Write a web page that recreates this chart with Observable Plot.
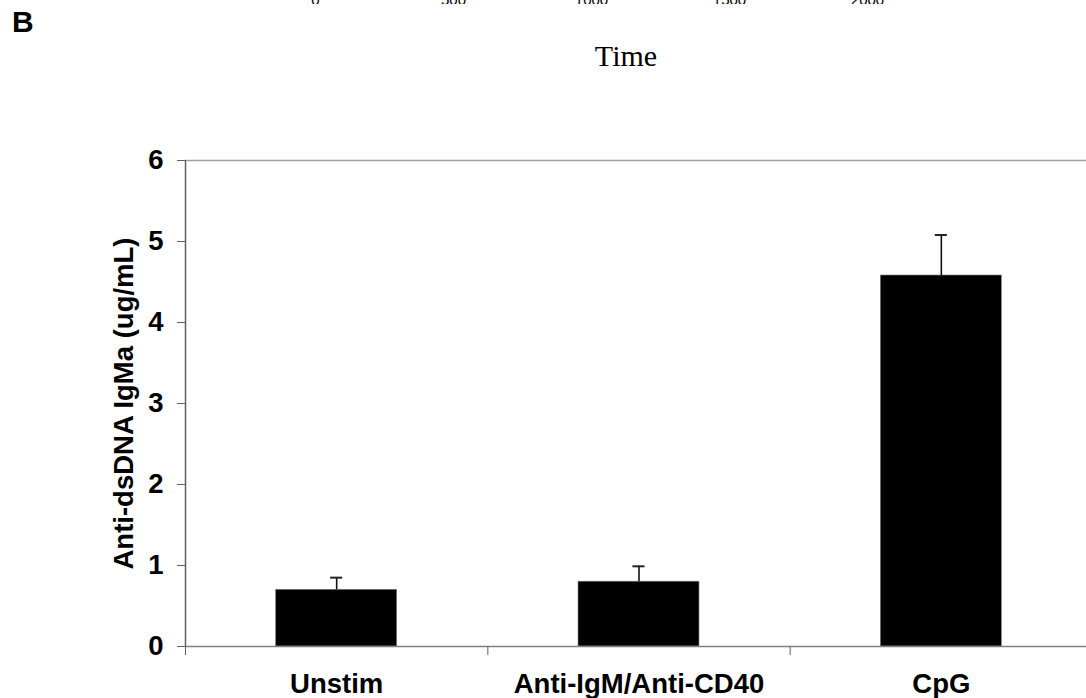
<!DOCTYPE html>
<html>
<head>
<meta charset="utf-8">
<script src="https://cdn.jsdelivr.net/npm/d3@7"></script>
<script src="https://cdn.jsdelivr.net/npm/@observablehq/plot@0.6"></script>
<style>
  html, body { margin: 0; padding: 0; background: #fff; }
  #wrap { position: relative; width: 1086px; height: 698px; overflow: hidden; font-family: "Liberation Sans", Arial, sans-serif; }
  #topaxis { position: absolute; left: 0; top: -16px; }
  #panel { position: absolute; left: 12px; top: 7px; font: bold 30px "Liberation Sans", Arial, sans-serif; line-height: 1; }
  #time { position: absolute; left: 0; width: 1252px; top: 41px; text-align: center; font: 30px "Liberation Serif", "Times New Roman", serif; line-height: 1; }
  #main { position: absolute; left: 0; top: 0; }
</style>
</head>
<body>
<div id="wrap">
  <div id="main"></div>
  <div id="topaxis"></div>
  <div id="panel">B</div>
  <div id="time">Time</div>
</div>
<script>
// Data
const categories = ["Unstim", "Anti-IgM/Anti-CD40", "CpG"];
const means = [0.70, 0.80, 4.58];
const errors = [0.15, 0.19, 0.50];
const yTicks = [0, 1, 2, 3, 4, 5, 6];
const timeTicks = [0, 500, 1000, 1500, 2000];

const data = categories.map((c, i) => ({cat: c, i, mean: means[i], err: errors[i]}));

// Clipped axis from the panel above
const topAxis = Plot.plot({
  width: 1086, height: 20, margin: 0,
  x: {domain: [0, 2000], range: [315, 867], axis: null},
  y: {axis: null},
  marks: [
    Plot.text(timeTicks, {x: d => d, frameAnchor: "bottom", lineAnchor: "bottom", text: d => String(d),
      fontSize: 15, fill: "black", fontFamily: "Liberation Sans, Arial, sans-serif"})
  ]
});
document.getElementById("topaxis").appendChild(topAxis);

const font = "Liberation Sans, Arial, sans-serif";
const fs = 27.5;
const chart = Plot.plot({
  width: 1086, height: 698,
  marginTop: 160, marginBottom: 52, marginLeft: 185, marginRight: 0,
  style: {fontFamily: font, background: "white", overflow: "hidden"},
  x: {type: "linear", domain: [0, 3], range: [185, 1092]},
  y: {domain: [0, 6]},
  marks: [
    Plot.rectY(data, {x1: d => d.i + 0.3, x2: d => d.i + 0.7, y1: 0, y2: "mean", fill: "black", stroke: "#777", strokeWidth: 0.6}),
    Plot.ruleX(data, {x: d => d.i + 0.5, y1: "mean", y2: d => d.mean + d.err, stroke: "#111", strokeWidth: 1.6}),
    Plot.ruleY(data, {y: d => d.mean + d.err, x1: d => d.i + 0.48, x2: d => d.i + 0.52, stroke: "#222", strokeWidth: 2}),
    Plot.ruleY([6], {stroke: "#a0a0a0", strokeWidth: 1.5}),
    Plot.ruleY([0], {stroke: "#808080", strokeWidth: 1.5}),
    Plot.ruleX([0], {stroke: "#606060", strokeWidth: 1.5}),
    Plot.axisY({ticks: yTicks, tickFormat: d3.format("d"), tickSize: 8, tickPadding: 14, fontSize: fs, fontWeight: "bold", stroke: "#606060", fill: "black",
      label: "Anti-dsDNA IgMa (ug/mL)", labelAnchor: "center", labelArrow: "none", labelOffset: 72}),
    Plot.axisX({ticks: [0, 1, 2, 3], tickSize: 9, tickFormat: () => "", stroke: "#606060", label: null}),
    Plot.axisX({ticks: [0.5, 1.5, 2.5], tickSize: 0, tickPadding: 27, fontSize: fs, fontWeight: "bold", fill: "black",
      tickFormat: d => categories[Math.floor(d)], label: null})
  ]
});
document.getElementById("main").appendChild(chart);
</script>
</body>
</html>
